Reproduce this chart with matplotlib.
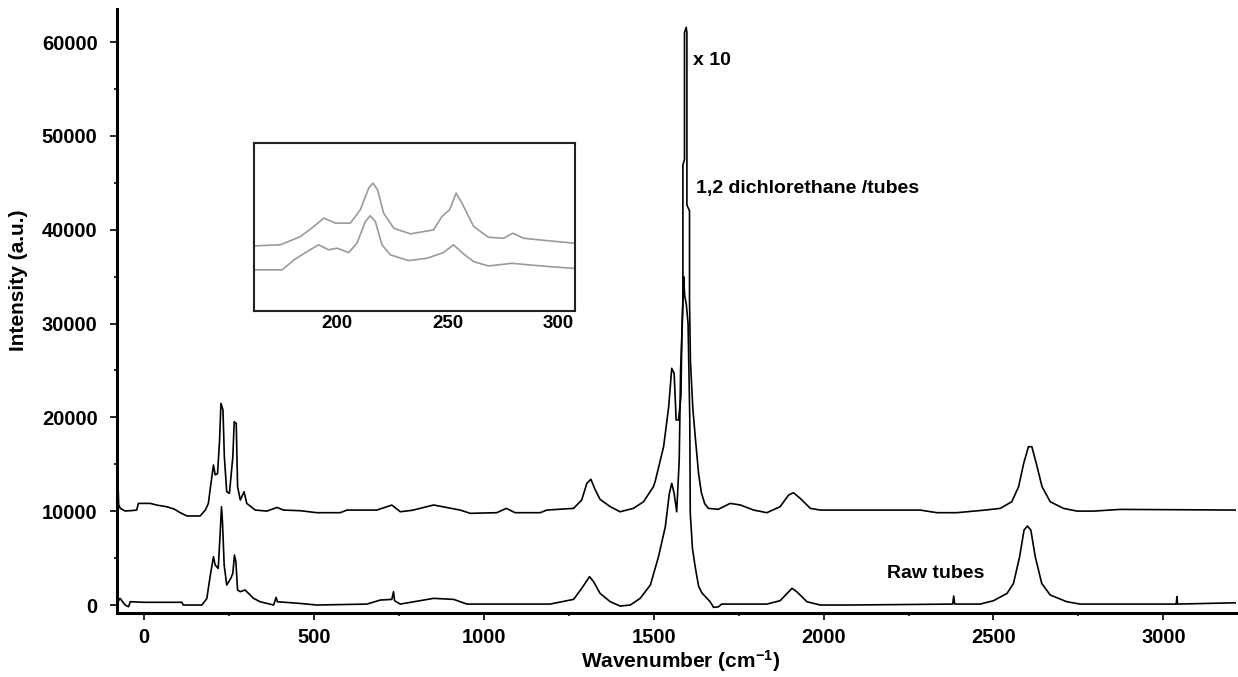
import matplotlib
matplotlib.use("Agg")
import matplotlib.pyplot as plt

plt.rcParams['font.family'] = ['Liberation Sans', 'DejaVu Sans']
plt.rcParams['font.weight'] = 'bold'
plt.rcParams['mathtext.fontset'] = 'custom'
plt.rcParams['mathtext.rm'] = 'Liberation Sans:bold'
plt.rcParams['mathtext.it'] = 'Liberation Sans:bold'
plt.rcParams['mathtext.bf'] = 'Liberation Sans:bold'

# 1,2 dichlorethane / tubes spectrum (offset ~10000)
upper_x = [-80, -77, -75, -70, -56, -35, -22, -17, 18, 37, 67, 90, 106, 126, 165, 180,
           189, 194, 204, 209, 216, 222, 226, 232, 236, 243, 251, 261, 265, 271, 275,
           283, 294, 302, 327, 361, 391, 410, 460, 508, 577, 597, 685, 729, 754, 790,
           852, 930, 960, 1038, 1066, 1092, 1166, 1185, 1264, 1288, 1303, 1315, 1328,
           1342, 1372, 1401, 1440, 1470, 1499, 1504, 1529, 1544, 1553, 1560, 1566,
           1573, 1580, 1583, 1585.8, 1585.8, 1590.5, 1590.5, 1595.5, 1597.6, 1597.6,
           1605.3, 1605.3, 1608, 1615, 1622, 1632, 1640, 1650, 1661, 1690, 1725, 1755,
           1794, 1833, 1872, 1897, 1911, 1931, 1961, 1990, 2078, 2284, 2334, 2392,
           2476, 2520, 2554, 2574, 2589, 2603, 2613, 2626, 2643, 2667, 2706, 2746,
           2795, 2873, 3215]
upper_y = [13000, 12800, 10660, 10300, 10020, 10070, 10120, 10830, 10830, 10650, 10470,
           10200, 9840, 9490, 9490, 10120, 10830, 12260, 14920, 13870, 14000, 17590,
           21490, 20780, 15800, 12080, 11900, 15800, 19540, 19360, 12610, 11190, 12080,
           10830, 10120, 10010, 10400, 10120, 10050, 9840, 9840, 10120, 10120, 10650,
           9940, 10100, 10660, 10120, 9770, 9840, 10300, 9840, 9840, 10120, 10300,
           11190, 12970, 13400, 12260, 11260, 10480, 9940, 10300, 11010, 12610, 13140,
           16870, 21130, 25230, 24690, 19720, 19720, 22200, 29300, 32500, 46890, 47500,
           61000, 61570, 61000, 42630, 42000, 32500, 26000, 21000, 18000, 14000, 12000,
           10800, 10300, 10200, 10830, 10660, 10120, 9840, 10480, 11720, 11970, 11370,
           10300, 10120, 10120, 10120, 9840, 9840, 10120, 10300, 11010, 12610, 15100,
           16870, 16870, 15100, 12610, 11010, 10300, 10010, 10010, 10190, 10120]

# raw tubes spectrum
lower_x = [-80, -77, -71, -56, -46, -41, 0, 60, 111, 115, 170, 184.5, 194, 204, 209, 218,
           223.7, 227.6, 230.5, 235.5, 243, 255, 261, 265.8, 270, 275, 283, 297, 322,
           341.5, 381, 388.6, 392, 459, 508, 656, 695, 729, 734, 737, 754, 852, 911,
           950, 1195, 1264, 1288, 1311, 1323, 1342, 1372, 1401, 1431, 1460, 1490, 1514,
           1534, 1546, 1553, 1560, 1567.6, 1575, 1579, 1584, 1588, 1591, 1596, 1601,
           1606, 1607.5, 1614, 1622, 1632, 1642, 1666, 1676, 1690, 1700, 1833, 1872,
           1907, 1921, 1951, 1990, 2078, 2380, 2383, 2386, 2461, 2500, 2540, 2559, 2577,
           2590, 2600, 2610, 2623, 2642, 2667, 2716, 2755, 3038, 3040, 3042, 3215]
lower_y = [1950, 350, 710, 0, -180, 350, 290, 290, 290, 0, 0, 700, 3020, 5150, 4260, 3900,
           7640, 10480, 8880, 4260, 2130, 2840, 3380, 5330, 4600, 1600, 1420, 1600, 710,
           350, 0, 820, 350, 170, 0, 100, 530, 600, 1420, 460, 100, 710, 600, 100, 100,
           600, 1780, 3020, 2480, 1240, 350, -110, 0, 710, 2130, 5150, 8340, 11900,
           12970, 11900, 9940, 15450, 25000, 30000, 35000, 33000, 32000, 30000, 20000,
           9800, 6000, 4080, 2000, 1280, 350, -250, -200, 100, 100, 460, 1780, 1420, 350,
           0, 0, 100, 960, 100, 100, 460, 1240, 2310, 5150, 7990, 8420, 7990, 5150, 2310,
           1070, 350, 100, 100, 890, 100, 240]

# inset: zoom on the radial breathing modes (arbitrary scale)
inset_up_x = [163.2, 174.4, 183.5, 189.5, 194, 199.2, 206, 210.5, 214.3, 216.2, 218.3, 221,
              225.6, 233.1, 243.6, 247.4, 250.8, 253.8, 256.4, 261.7, 268.4, 275.2, 279.4,
              284.2, 294.7, 306.8]
inset_up_y = [38.8, 39.4, 44.3, 50.3, 55.3, 52.3, 52.3, 60.2, 73.2, 76.1, 72.2, 58.3, 49.3,
              45.9, 48.3, 56.3, 60.2, 70.2, 64.2, 50.3, 43.9, 43.3, 46.3, 43.3, 41.9, 40.4]
inset_lo_x = [163.2, 175.2, 180.5, 186.5, 191.7, 196.2, 200, 205.3, 209, 212.8, 215, 217.3,
              220.3, 224.1, 232.3, 240.6, 248.1, 252.6, 257.1, 261.7, 268.4, 279, 287.2,
              296.2, 306.8]
inset_lo_y = [24.5, 24.5, 30.4, 35.4, 39.4, 36.4, 37.4, 34.8, 40.4, 53.3, 56.7, 53.3, 39.4,
              33.4, 30, 31.4, 34.8, 39.4, 34, 29.4, 26.8, 28.4, 27.4, 26.4, 25.4]

fig = plt.figure(figsize=(12.38, 6.77), dpi=100)
ax = fig.add_axes([0.0945, 0.0945, 0.9039, 0.8922])

ax.plot(upper_x, upper_y, color='black', lw=1.2)
ax.plot(lower_x, lower_y, color='black', lw=1.2)

ax.set_xlim(-80, 3214)
ax.set_ylim(-853, 63520)
ax.set_xticks(range(0, 3001, 500))
ax.set_xticks(range(0, 3201, 250), minor=True)
ax.set_yticks(range(0, 60001, 10000))
ax.set_yticks(range(0, 63001, 5000), minor=True)

for s in ['top', 'right']:
    ax.spines[s].set_visible(False)
for s in ['left', 'bottom']:
    ax.spines[s].set_linewidth(2.2)

ax.tick_params(axis='both', which='major', direction='out', length=5, width=1.2, labelsize=14.5)
ax.tick_params(axis='both', which='minor', direction='out', length=2.5, width=1.2)
ax.tick_params(axis='y', which='major', pad=9)
ax.tick_params(axis='x', which='major', pad=6)

ax.set_ylabel('Intensity (a.u.)', fontsize=15, fontweight='bold')
ax.yaxis.set_label_coords(-0.0795, 0.551)
ax.set_xlabel('Wavenumber (cm$^{-1}$)', fontsize=15, fontweight='bold')
ax.xaxis.set_label_coords(0.504, -0.058)

ax.text(1616, 58080, 'x 10', fontsize=14, fontweight='bold', va='center', ha='left')
ax.text(1625, 44440, '1,2 dichlorethane /tubes', fontsize=14, fontweight='bold',
        va='center', ha='left')
ax.text(2187, 3410, 'Raw tubes', fontsize=14, fontweight='bold', va='center', ha='left')

# inset
axin = fig.add_axes([0.2052, 0.5406, 0.2593, 0.2482])
axin.plot(inset_up_x, inset_up_y, color='#9a9a9a', lw=1.2)
axin.plot(inset_lo_x, inset_lo_y, color='#9a9a9a', lw=1.2)
axin.set_xlim(162.5, 307.5)
axin.set_ylim(0, 100)
axin.set_xticks([200, 250, 300])
axin.set_yticks([])
axin.tick_params(axis='x', length=0, pad=3, labelsize=13.5)
for s in axin.spines.values():
    s.set_linewidth(1.5)
    s.set_color('#222222')

fig.savefig('out.png', dpi=100)
